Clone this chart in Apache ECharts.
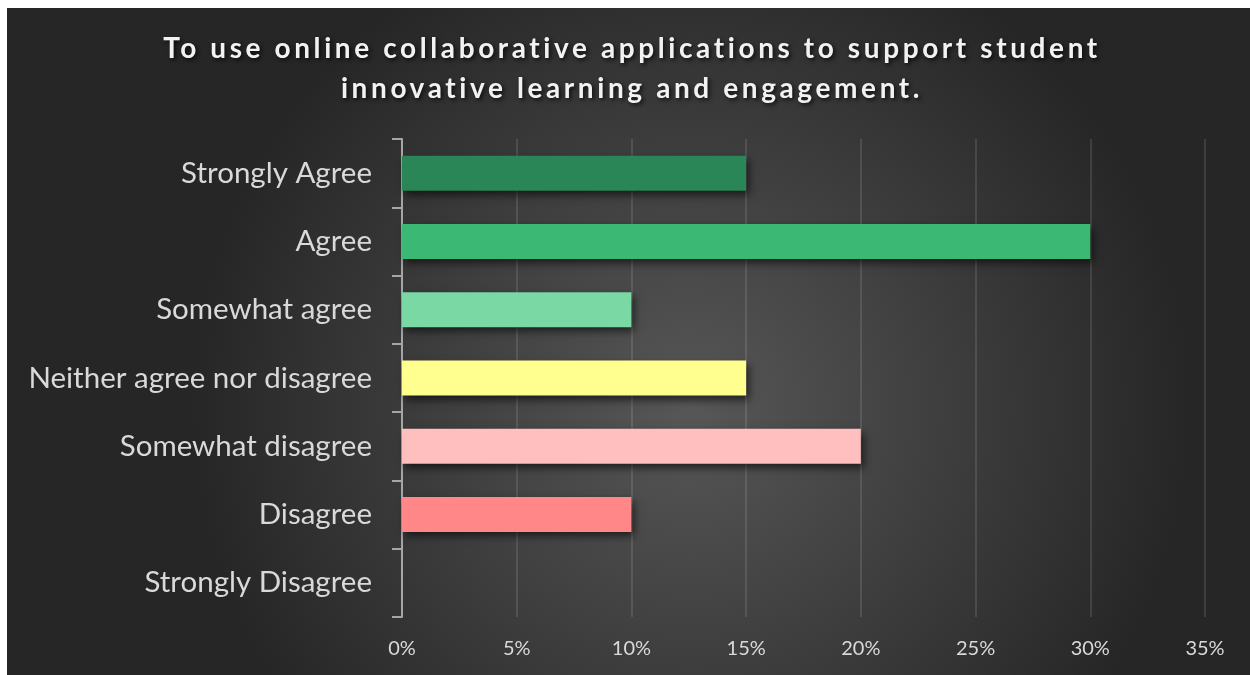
<!DOCTYPE html>
<html>
<head>
<meta charset="utf-8">
<script src="https://cdn.jsdelivr.net/npm/echarts@6/dist/echarts.min.js"></script>
<style>
  html, body { margin: 0; padding: 0; background: #ffffff; }
  #chart { position: absolute; left: 7px; top: 8px; width: 1243px; height: 667px; }
</style>
</head>
<body>
<div id="chart"></div>
<script>
// Survey responses, top to bottom
const categories = [
  'Strongly Agree',
  'Agree',
  'Somewhat agree',
  'Neither agree nor disagree',
  'Somewhat disagree',
  'Disagree',
  'Strongly Disagree'
];
// Share of respondents (fraction of 1)
const shares = [0.15, 0.30, 0.10, 0.15, 0.20, 0.10, 0];
// One fill per response level
const barColors = ['#2a8656', '#3bb873', '#79d8a4', '#ffff8f', '#ffbfbf', '#ff8787', '#c00000'];
// Value axis ticks
const tickValues = [0, 0.05, 0.10, 0.15, 0.20, 0.25, 0.30, 0.35];

// The title is set with spaced-out letters: bold text gets canvas letter spacing.
(function () {
  const proto = CanvasRenderingContext2D.prototype;
  const origFill = proto.fillText;
  proto.fillText = function () {
    const spaced = /bold/.test(this.font) && ('letterSpacing' in this);
    const prev = spaced ? this.letterSpacing : null;
    if (spaced) this.letterSpacing = '3.6px';
    const r = origFill.apply(this, arguments);
    if (spaced) this.letterSpacing = prev;
    return r;
  };
})();

const chart = echarts.init(document.getElementById('chart'));

chart.setOption({
  backgroundColor: {
    type: 'radial', x: 0.55, y: 0.6, r: 0.75,
    colorStops: [
      { offset: 0, color: '#575757' },
      { offset: 1, color: '#262626' }
    ]
  },
  title: {
    text: 'To use online collaborative applications to support student\ninnovative learning and engagement.',
    left: 620,
    top: 16,
    textAlign: 'center',
    textStyle: {
      fontFamily: 'Lato',
      fontWeight: 'bold',
      fontSize: 28,
      lineHeight: 40,
      color: '#f2f2f2',
      textShadowColor: 'rgba(0,0,0,0.75)',
      textShadowBlur: 4,
      textShadowOffsetX: 2,
      textShadowOffsetY: 2
    }
  },
  grid: { left: 395, right: 45, top: 131, bottom: 58, containLabel: false },
  xAxis: {
    type: 'value',
    min: tickValues[0],
    max: tickValues[tickValues.length - 1],
    interval: 0.05,
    axisLine: { show: false },
    axisTick: { show: false },
    splitLine: { show: true, lineStyle: { color: 'rgba(255,255,255,0.11)', width: 2 } },
    axisLabel: {
      margin: 22,
      color: '#d9d9d9',
      fontFamily: 'Lato',
      fontSize: 20,
      formatter: v => Math.round(v * 100) + '%'
    }
  },
  yAxis: {
    type: 'category',
    data: categories,
    inverse: true,
    axisLine: { show: true, lineStyle: { color: '#a6a6a6', width: 2 } },
    axisTick: { show: true, length: 10, lineStyle: { color: '#a6a6a6', width: 2 } },
    axisLabel: {
      margin: 30,
      color: '#d9d9d9',
      fontFamily: 'Lato',
      fontSize: 29.5
    }
  },
  series: [{
    type: 'bar',
    data: shares.map((v, i) => ({ value: v, itemStyle: { color: barColors[i] } })),
    barWidth: 35,
    itemStyle: {
      shadowColor: 'rgba(0,0,0,0.6)',
      shadowBlur: 8,
      shadowOffsetX: 3,
      shadowOffsetY: 4
    },
    animation: false
  }]
});
</script>
</body>
</html>
